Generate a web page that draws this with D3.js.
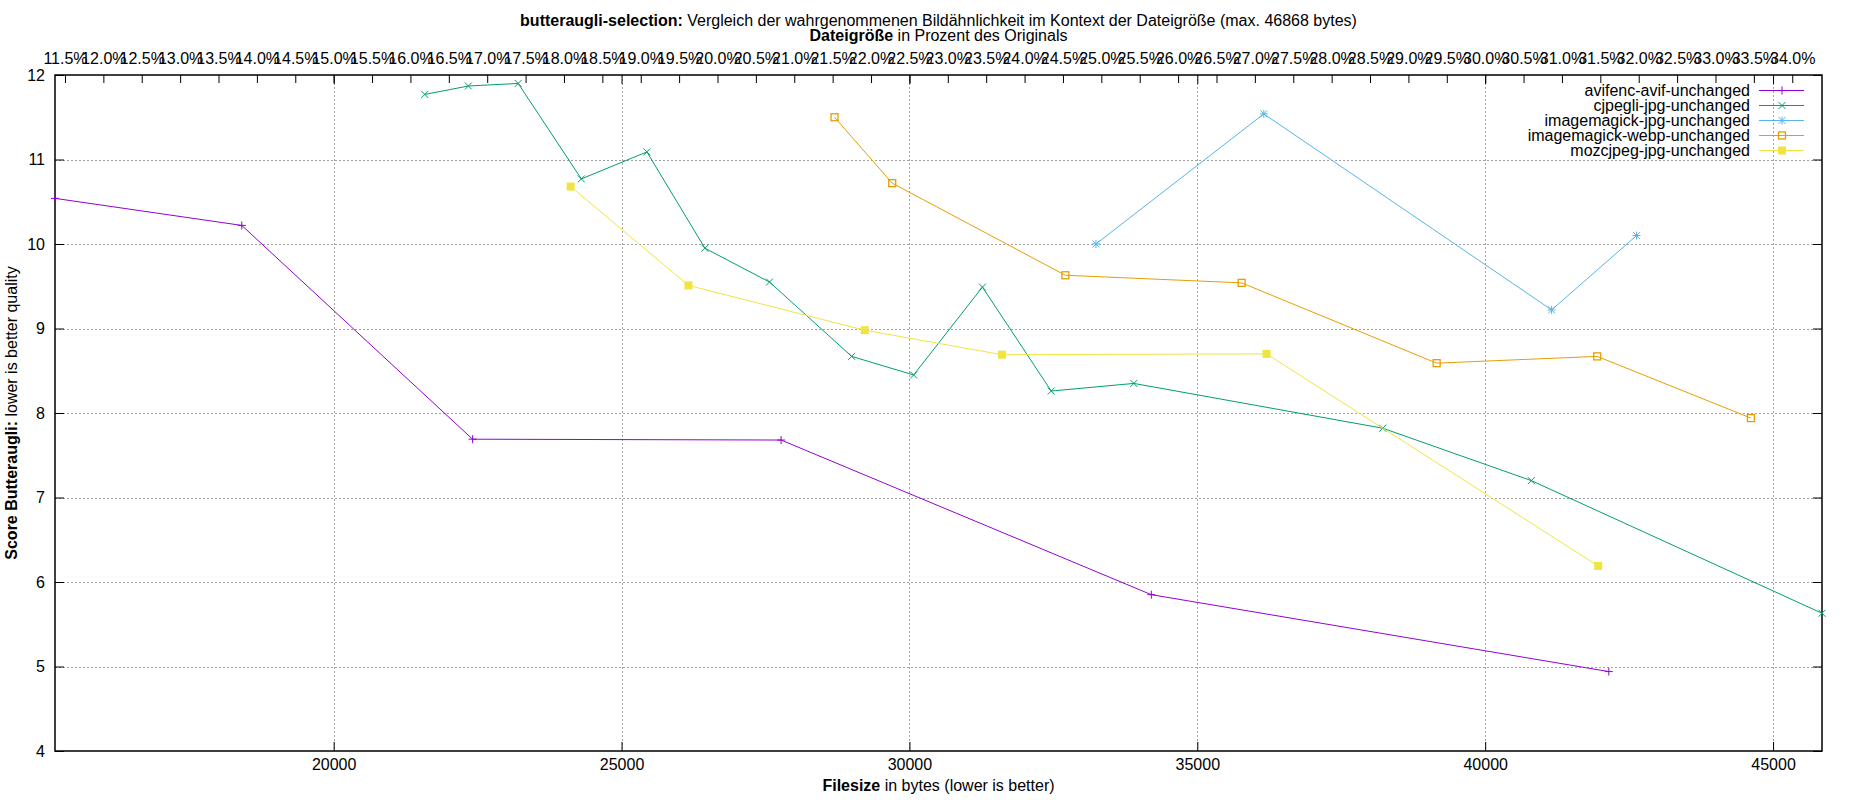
<!DOCTYPE html>
<html>
<head>
<meta charset="utf-8">
<script src="https://cdn.jsdelivr.net/npm/d3@7"></script>
<style>
  body { margin: 0; background: #fff; }
  text { font-family: "Liberation Sans", Arial, sans-serif; }
</style>
</head>
<body>
<script>
// series values (bytes / butteraugli score)
var avifBytes  = [15160, 18404, 22413, 27771, 34202, 42147];
var avifScore  = [10.54, 10.22, 7.69, 7.68, 5.85, 4.94];

var cjpegliBytes = [21582, 22340, 23205, 24302, 25440, 26448, 27570, 28997, 30073, 31268, 32463, 33898, 38220, 40801, 45850];
var cjpegliScore = [11.77, 11.87, 11.90, 10.77, 11.09, 9.95, 9.55, 8.67, 8.45, 9.49, 8.26, 8.35, 7.82, 7.20, 5.63];

var imJpgBytes = [33240, 36155, 41154, 42629];
var imJpgScore = [10.00, 11.54, 9.22, 10.10];

var imWebpBytes = [28699, 29701, 32709, 35770, 39157, 41946, 44615];
var imWebpScore = [11.50, 10.72, 9.63, 9.54, 8.59, 8.67, 7.94];

var mozBytes = [24116, 26162, 29223, 31607, 36202, 41963];
var mozScore = [10.68, 9.51, 8.98, 8.69, 8.70, 6.19];

var seriesNames = ["avifenc-avif-unchanged", "cjpegli-jpg-unchanged", "imagemagick-jpg-unchanged",
                   "imagemagick-webp-unchanged", "mozcjpeg-jpg-unchanged"];

var originalBytes = 133333;   // 100% for the top axis
var yTicks = [4, 5, 6, 7, 8, 9, 10, 11, 12];
var xTicks = [20000, 25000, 30000, 35000, 40000, 45000];
var pctTicks = d3.range(11.5, 34.01, 0.5);

function run_chart () {

    var width = 1850, height = 800;
    var left = 55, right = 1822, top = 75, bottom = 751;
    var fs = "16px";

    var colors = ["#9400d3", "#009e73", "#56b4e9", "#e69f00", "#f0e442"];
    var pointTypes = ["plus", "cross", "star", "box", "filledbox"];

    var series = [
        {bytes: avifBytes, score: avifScore},
        {bytes: cjpegliBytes, score: cjpegliScore},
        {bytes: imJpgBytes, score: imJpgScore},
        {bytes: imWebpBytes, score: imWebpScore},
        {bytes: mozBytes, score: mozScore}
    ].map(function (s, i) {
        return {
            name: seriesNames[i],
            color: colors[i],
            type: pointTypes[i],
            pts: s.bytes.map(function (b, j) { return [b, s.score[j]]; })
        };
    });

    var allBytes = d3.merge(series.map(function (s) { return s.pts.map(function (p) { return p[0]; }); }));

    var svg = d3.select("body").append("svg")
        .attr("width", width)
        .attr("height", height);

    svg.append("rect").attr("width", width).attr("height", height).attr("fill", "#fff");

    // scales
    var x = d3.scaleLinear().domain(d3.extent(allBytes)).range([left, right]);
    var x2 = d3.scaleLinear()
        .domain(x.domain().map(function (b) { return b / originalBytes * 100; }))
        .range([left, right]);
    var y = d3.scaleLinear().domain([4, 12]).range([bottom, top]);

    // grid
    var grid = svg.append("g")
        .attr("stroke", "#a0a0a0")
        .attr("stroke-width", 1)
        .attr("stroke-dasharray", "2,2");

    grid.selectAll("line.v")
        .data(xTicks)
        .enter().append("line")
        .attr("x1", function (d) { return Math.round(x(d)) + 0.5; })
        .attr("x2", function (d) { return Math.round(x(d)) + 0.5; })
        .attr("y1", top).attr("y2", bottom);

    grid.selectAll("line.h")
        .data(yTicks.slice(1, -1))
        .enter().append("line")
        .attr("x1", left).attr("x2", right)
        .attr("y1", function (d) { return Math.round(y(d)) + 0.5; })
        .attr("y2", function (d) { return Math.round(y(d)) + 0.5; });

    // axes
    function styleAxis(g) {
        g.select(".domain").remove();
        g.selectAll(".tick line").attr("stroke", "#000");
        g.selectAll(".tick text").attr("fill", "#000").attr("font-size", fs);
    }

    svg.append("g")
        .attr("transform", "translate(0," + bottom + ")")
        .call(d3.axisBottom(x).tickValues(xTicks).tickSize(-9).tickPadding(8).tickFormat(d3.format("d")))
        .call(styleAxis);

    // mirrored x1 ticks at top, no labels
    svg.append("g")
        .attr("transform", "translate(0," + top + ")")
        .call(d3.axisTop(x).tickValues(xTicks).tickSize(-9).tickFormat(""))
        .call(styleAxis);

    svg.append("g")
        .attr("transform", "translate(0," + top + ")")
        .call(d3.axisTop(x2).tickValues(pctTicks).tickSize(-8).tickPadding(11)
              .tickFormat(function (d) { return d3.format(".1f")(d) + "%"; }))
        .call(styleAxis);

    svg.append("g")
        .attr("transform", "translate(" + left + ",0)")
        .call(d3.axisLeft(y).tickValues(yTicks).tickSize(-9).tickPadding(10))
        .call(styleAxis);

    svg.append("g")
        .attr("transform", "translate(" + right + ",0)")
        .call(d3.axisRight(y).tickValues(yTicks).tickSize(-9).tickFormat(""))
        .call(styleAxis);

    // border
    svg.append("rect")
        .attr("x", left).attr("y", top)
        .attr("width", right - left).attr("height", bottom - top)
        .attr("fill", "none").attr("stroke", "#000").attr("stroke-width", 1.5);

    // point glyphs, gnuplot style
    function glyph(g, type, color) {
        var r = 4;
        if (type === "plus" || type === "star") {
            g.append("path").attr("d", "M" + (-r) + ",0H" + r + "M0," + (-r) + "V" + r)
                .attr("stroke", color).attr("fill", "none");
        }
        if (type === "cross" || type === "star") {
            g.append("path").attr("d", "M-3.5,-3.5L3.5,3.5M-3.5,3.5L3.5,-3.5")
                .attr("stroke", color).attr("fill", "none");
        }
        if (type === "box") {
            g.append("rect").attr("x", -3.5).attr("y", -3.5).attr("width", 7).attr("height", 7)
                .attr("stroke", color).attr("stroke-width", 1.3).attr("fill", "none");
        }
        if (type === "filledbox") {
            g.append("rect").attr("x", -4).attr("y", -4).attr("width", 8).attr("height", 8)
                .attr("fill", color);
        }
    }

    var line = d3.line()
        .x(function (d) { return x(d[0]); })
        .y(function (d) { return y(d[1]); });

    var plot = svg.append("g");

    series.forEach(function (s) {
        plot.append("path")
            .datum(s.pts)
            .attr("d", line)
            .attr("fill", "none")
            .attr("stroke", s.color)
            .attr("stroke-width", 1);

        plot.selectAll(null)
            .data(s.pts)
            .enter().append("g")
            .attr("transform", function (d) { return "translate(" + x(d[0]) + "," + y(d[1]) + ")"; })
            .each(function () { glyph(d3.select(this), s.type, s.color); });
    });

    // legend
    var legend = svg.append("g");
    series.forEach(function (s, i) {
        var ly = 90.5 + i * 15;
        legend.append("text")
            .attr("x", 1750).attr("y", ly)
            .attr("dy", "0.35em")
            .attr("text-anchor", "end")
            .attr("font-size", fs)
            .text(s.name);
        legend.append("line")
            .attr("x1", 1759).attr("x2", 1804)
            .attr("y1", ly).attr("y2", ly)
            .attr("stroke", s.color);
        var g = legend.append("g").attr("transform", "translate(1782," + ly + ")");
        glyph(g, s.type, s.color);
    });

    // titles
    var title = svg.append("text")
        .attr("x", (left + right) / 2).attr("y", 26)
        .attr("text-anchor", "middle")
        .attr("font-size", fs);
    title.append("tspan").attr("font-weight", "bold").text("butteraugli-selection:");
    title.append("tspan").text(" Vergleich der wahrgenommenen Bildähnlichkeit im Kontext der Dateigröße (max. 46868 bytes)");

    var sub = svg.append("text")
        .attr("x", (left + right) / 2).attr("y", 41)
        .attr("text-anchor", "middle")
        .attr("font-size", fs);
    sub.append("tspan").attr("font-weight", "bold").text("Dateigröße");
    sub.append("tspan").text(" in Prozent des Originals");

    var xl = svg.append("text")
        .attr("x", (left + right) / 2).attr("y", 791)
        .attr("text-anchor", "middle")
        .attr("font-size", fs);
    xl.append("tspan").attr("font-weight", "bold").text("Filesize");
    xl.append("tspan").text(" in bytes (lower is better)");

    var yl = svg.append("text")
        .attr("transform", "translate(17," + (top + bottom) / 2 + ") rotate(-90)")
        .attr("text-anchor", "middle")
        .attr("font-size", fs);
    yl.append("tspan").attr("font-weight", "bold").text("Score Butteraugli:");
    yl.append("tspan").text(" lower is better quality");
}

window.onload = run_chart;
</script>
</body>
</html>
